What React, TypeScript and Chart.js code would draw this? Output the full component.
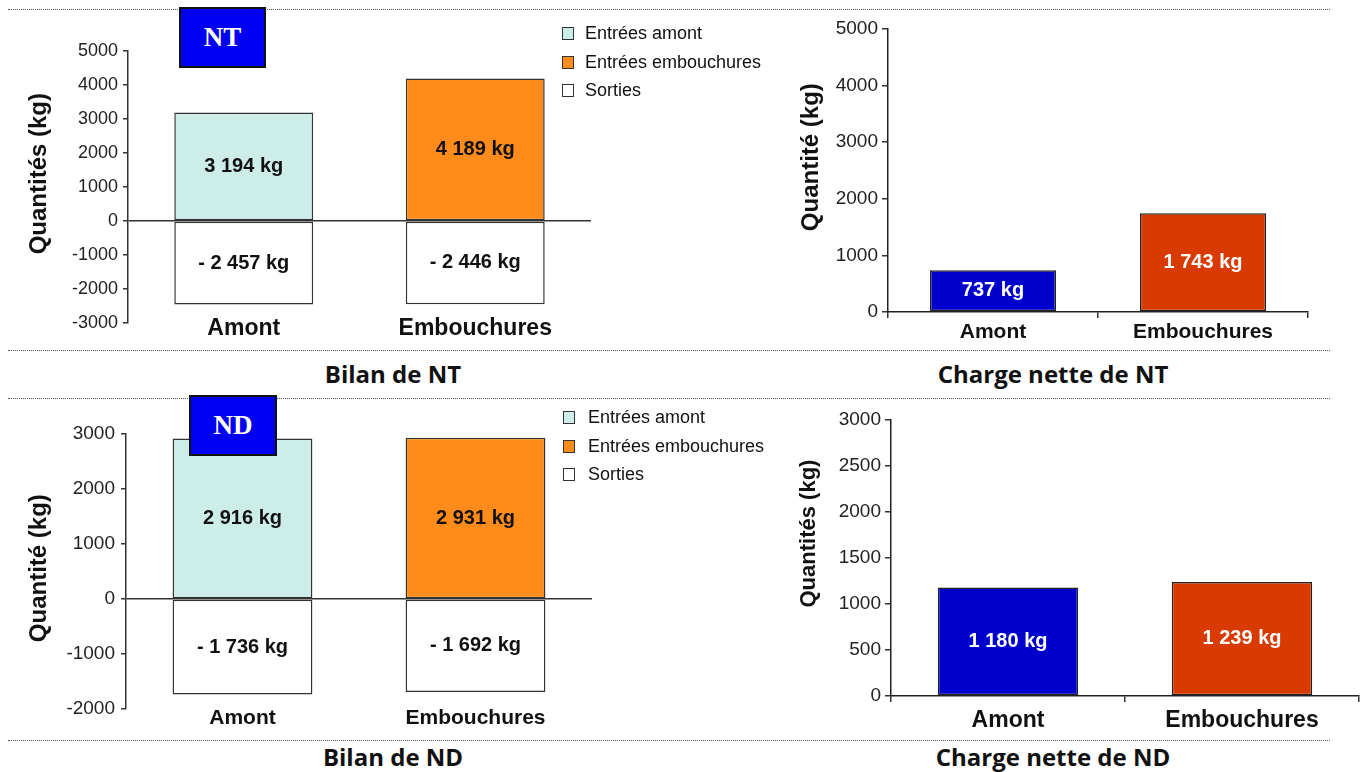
import React, { useEffect, useRef } from 'react';
import { Chart, registerables } from 'chart.js';

Chart.register(...registerables);

// ---------- DATA ----------
const categories = ['Amont', 'Embouchures'];
const seriesNames = ['Entrées amont', 'Entrées embouchures', 'Sorties'];
const seriesColors = ['#CDEDE8', '#FF8C1A', '#FFFFFF'];

const ntEntreesAmont = [3194, null];
const ntEntreesEmbouchures = [null, 4189];
const ntSorties = [-2457, -2446];

const ndEntreesAmont = [2916, null];
const ndEntreesEmbouchures = [null, 2931];
const ndSorties = [-1736, -1692];

const ntChargeNette = [737, 1743];
const ndChargeNette = [1180, 1239];
const chargeColors = ['#0000CC', '#D93A00'];

const ntBilanRange = { min: -3000, max: 5000, step: 1000 };
const ndBilanRange = { min: -2000, max: 3000, step: 1000 };
const ntChargeRange = { min: 0, max: 5000, step: 1000 };
const ndChargeRange = { min: 0, max: 3000, step: 500 };

// ---------- STYLE ----------
const ARIAL = "'Liberation Sans', Arial, sans-serif";
const TITLE_FONT = "'Open Sans', 'Noto Sans', sans-serif";
const DARK = '#222';

const fmtKg = (v: number) =>
  (v < 0 ? '- ' : '') + String(Math.abs(v)).replace(/\B(?=(\d{3})+(?!\d))/g, ' ') + ' kg';

const plainTick = (v: any) => String(v);

const barLabelPlugin = {
  id: 'barLabels',
  afterDatasetsDraw(chart: any, _args: any, opts: any) {
    const ctx = chart.ctx;
    ctx.save();
    ctx.font = opts.font;
    ctx.fillStyle = opts.color;
    ctx.textAlign = 'center';
    ctx.textBaseline = 'middle';
    chart.data.datasets.forEach((ds: any, i: number) => {
      const meta = chart.getDatasetMeta(i);
      meta.data.forEach((el: any, j: number) => {
        const v = ds.data[j];
        if (v === null || v === undefined) return;
        const p = el.getProps(['x', 'y', 'base'], true);
        ctx.fillText(fmtKg(v), p.x, (p.y + p.base) / 2);
      });
    });
    ctx.restore();
  },
};

// leading spaces nudge the centred (rotated) axis title upwards
const shiftTitle = (text: string, n: number) => ' '.repeat(n) + text;

function bilanConfig(p: any) {
  const ds = (label: string, data: any[], color: string) => ({
    label,
    data,
    backgroundColor: color,
    borderColor: '#333',
    borderWidth: 1.5,
    borderSkipped: false,
    categoryPercentage: 0.6,
    barPercentage: 1,
  });
  return {
    type: 'bar',
    data: {
      labels: categories,
      datasets: [
        ds(seriesNames[0], p.amont, seriesColors[0]),
        ds(seriesNames[1], p.emb, seriesColors[1]),
        ds(seriesNames[2], p.sorties, seriesColors[2]),
      ],
    },
    plugins: [barLabelPlugin],
    options: {
      responsive: false,
      animation: false,
      events: [],
      layout: { padding: { top: p.padTop, right: p.padRight, bottom: 0, left: 0 } },
      plugins: {
        legend: { display: false },
        tooltip: { enabled: false },
        barLabels: { font: 'bold 20px ' + ARIAL, color: '#111' },
      },
      scales: {
        x: {
          stacked: true,
          grid: { display: false },
          border: { display: false },
          ticks: { padding: p.xPad, color: '#111', font: { family: ARIAL, size: p.catSize, weight: 'bold' } },
          afterFit: (s: any) => {
            s.height = p.xHeight;
            // category labels sit slightly above the axis box: do not clip them
            s._computeLabelArea = () => undefined;
          },
        },
        y: {
          stacked: true,
          min: p.range.min,
          max: p.range.max,
          ticks: {
            stepSize: p.range.step,
            padding: p.yTickPad,
            color: DARK,
            font: { family: ARIAL, size: p.tickSize },
            callback: plainTick,
          },
          grid: {
            color: (c: any) => (c.tick && c.tick.value === 0 ? '#333' : 'rgba(0,0,0,0)'),
            lineWidth: 1.5,
            tickColor: '#333',
            tickLength: 5,
            drawTicks: true,
          },
          border: { display: true, color: '#333', width: 1.5 },
          title: {
            display: true,
            text: shiftTitle(p.yTitle, p.titleShift),
            color: '#111',
            font: { family: ARIAL, size: 24, weight: 'bold' },
            padding: { top: 25, bottom: 0 },
          },
          afterFit: (s: any) => { s.width = p.yWidth; },
        },
      },
    },
  };
}

function chargeConfig(p: any) {
  return {
    type: 'bar',
    data: {
      labels: categories,
      datasets: [
        {
          label: 'Charge nette',
          data: p.values,
          backgroundColor: chargeColors,
          borderColor: '#222',
          borderWidth: 1.5,
          borderSkipped: false,
          categoryPercentage: 0.6,
          barPercentage: 1,
        },
      ],
    },
    plugins: [barLabelPlugin],
    options: {
      responsive: false,
      animation: false,
      events: [],
      layout: { padding: { top: p.padTop, right: p.padRight, bottom: 0, left: 0 } },
      plugins: {
        legend: { display: false },
        tooltip: { enabled: false },
        barLabels: { font: 'bold 20px ' + ARIAL, color: '#FFFFFF' },
      },
      scales: {
        x: {
          grid: { display: true, drawOnChartArea: false, drawTicks: true, tickLength: 6, color: '#333', lineWidth: 1.5 },
          border: { display: true, color: '#222', width: 1.5 },
          ticks: { padding: p.xPad, color: '#111', font: { family: ARIAL, size: p.catSize, weight: 'bold' } },
          afterFit: (s: any) => { s.height = p.xHeight; },
        },
        y: {
          min: p.range.min,
          max: p.range.max,
          ticks: {
            stepSize: p.range.step,
            padding: 4,
            color: DARK,
            font: { family: ARIAL, size: 19 },
            callback: plainTick,
          },
          grid: { drawOnChartArea: false, drawTicks: true, tickLength: 6, color: '#333', lineWidth: 1.5 },
          border: { display: true, color: '#222', width: 1.5 },
          title: {
            display: true,
            text: shiftTitle(p.yTitle, p.titleShift),
            color: '#111',
            font: { family: ARIAL, size: p.titleSize, weight: 'bold' },
            padding: { top: p.titlePad, bottom: 0 },
          },
          afterFit: (s: any) => { s.width = p.yWidth; },
        },
      },
    },
  };
}

function ChartBox({ left, top, width, height, config }: any) {
  const ref = useRef<HTMLCanvasElement>(null);
  useEffect(() => {
    if (!ref.current) return;
    const chart = new Chart(ref.current, config);
    return () => chart.destroy();
  }, []);
  return (
    <canvas
      ref={ref}
      width={width}
      height={height}
      style={{ position: 'absolute', left, top, width, height }}
    />
  );
}

function Legend({ left, top, textLeft }: any) {
  const offsets = [0, 29, 56.5];
  return (
    <>
      {seriesNames.map((name, i) => (
        <React.Fragment key={name}>
          <div
            style={{
              position: 'absolute',
              left,
              top: top + offsets[i],
              width: 12,
              height: 13,
              boxSizing: 'border-box',
              border: '1.5px solid #333',
              background: seriesColors[i],
            }}
          />
          <div
            style={{
              position: 'absolute',
              left: textLeft,
              top: top + offsets[i] - 3,
              font: '18px ' + ARIAL,
              lineHeight: '18px',
              color: '#111',
              whiteSpace: 'nowrap',
            }}
          >
            {name}
          </div>
        </React.Fragment>
      ))}
    </>
  );
}

function Badge({ left, top, width, height, text }: any) {
  return (
    <div
      style={{
        position: 'absolute',
        left,
        top,
        width,
        height,
        boxSizing: 'border-box',
        border: '2px solid #111',
        background: '#0000F2',
        color: '#fff',
        font: "bold 27px 'Liberation Serif', 'Times New Roman', serif",
        display: 'flex',
        alignItems: 'center',
        justifyContent: 'center',
      }}
    >
      {text}
    </div>
  );
}

function Separator({ top }: any) {
  return (
    <div
      style={{
        position: 'absolute',
        left: 8,
        top,
        width: 1322,
        height: 0,
        borderTop: '1px dotted #555',
      }}
    />
  );
}

function SectionTitle({ center, top, text }: any) {
  return (
    <div
      style={{
        position: 'absolute',
        left: center - 200,
        top,
        width: 400,
        textAlign: 'center',
        font: 'bold 24px ' + TITLE_FONT,
        lineHeight: '24px',
        color: '#111',
        whiteSpace: 'nowrap',
      }}
    >
      {text}
    </div>
  );
}

export default function App() {
  const ntBilan = bilanConfig({
    amont: ntEntreesAmont, emb: ntEntreesEmbouchures, sorties: ntSorties,
    range: ntBilanRange, yTitle: 'Quantités (kg)', titleShift: 4,
    padTop: 51, padRight: 9, xHeight: 22, yWidth: 128, xPad: -16,
    catSize: 23, tickSize: 18, yTickPad: 5,
  });
  const ndBilan = bilanConfig({
    amont: ndEntreesAmont, emb: ndEntreesEmbouchures, sorties: ndSorties,
    range: ndBilanRange, yTitle: 'Quantité (kg)', titleShift: 1,
    padTop: 44, padRight: 8, xHeight: 31, yWidth: 126, xPad: -11,
    catSize: 21, tickSize: 19, yTickPad: 6,
  });
  const ntCharge = chargeConfig({
    values: ntChargeNette, range: ntChargeRange, yTitle: 'Quantité (kg)', titleShift: 4,
    padTop: 19, padRight: 57, xHeight: 38, yWidth: 108, xPad: 2,
    catSize: 21, titlePad: 17, titleSize: 24,
  });
  const ndCharge = chargeConfig({
    values: ndChargeNette, range: ndChargeRange, yTitle: 'Quantités (kg)', titleShift: 8,
    padTop: 20, padRight: 6, xHeight: 44, yWidth: 111, xPad: 5,
    catSize: 23, titlePad: 16, titleSize: 22,
  });

  return (
    <div style={{ position: 'absolute', left: 0, top: 0, width: 1365, height: 772, overflow: 'hidden', background: '#fff' }}>
      <ChartBox left={0} top={0} width={600} height={345} config={ntBilan} />
      <ChartBox left={780} top={10} width={585} height={340} config={ntCharge} />
      <ChartBox left={0} top={390} width={600} height={350} config={ndBilan} />
      <ChartBox left={780} top={400} width={585} height={340} config={ndCharge} />

      <Separator top={9} />
      <Separator top={350} />
      <Separator top={398} />
      <Separator top={740} />

      <Legend left={562} top={27} textLeft={585} />
      <Legend left={563} top={411} textLeft={588} />

      <Badge left={179} top={7} width={87} height={61} text="NT" />
      <Badge left={189} top={395} width={88} height={61} text="ND" />

      <SectionTitle center={393} top={362} text="Bilan de NT" />
      <SectionTitle center={1053} top={362} text="Charge nette de NT" />
      <SectionTitle center={393} top={745} text="Bilan de ND" />
      <SectionTitle center={1053} top={745} text="Charge nette de ND" />
    </div>
  );
}
